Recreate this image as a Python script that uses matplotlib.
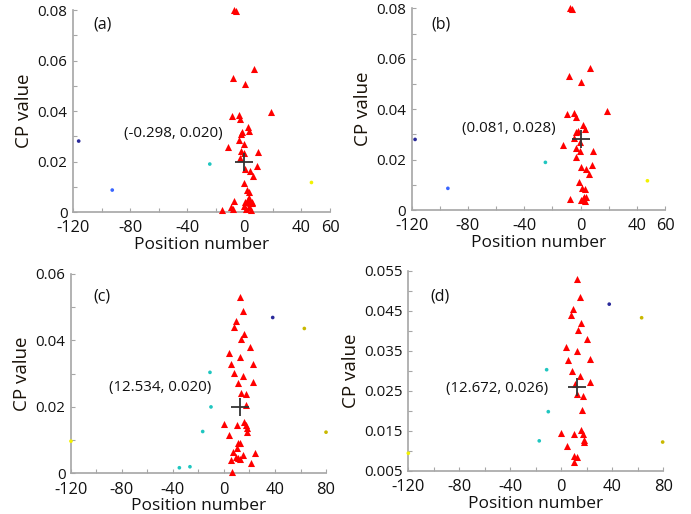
import matplotlib
matplotlib.use("Agg")
import matplotlib.pyplot as plt

plt.rcParams['font.family'] = ['Open Sans', 'DejaVu Sans']

# ---- panel (a) ----
tri_x_a = [-7.0, -5.9, 7.1, -7.8, 0.7, 18.8, -8.9, -4.0, -2.8, 2.4, 3.1, -1.6, -2.3, -4.0,
           0.0, -11.3, -2.3, 9.9, -0.4, -2.8, 9.0, 0.7, 4.2, 5.9, 0.0, 1.7, 3.5, 3.1, 2.4,
           5.2, -7.0, 0.5, 2.5, 4.0, 5.5, -0.4, 3.0, -9.4, -7.8, -15.3, 1.0, 4.5]
tri_y_a = [0.0800, 0.0796, 0.0565, 0.0530, 0.0507, 0.0395, 0.0380, 0.0384, 0.0368, 0.0337,
           0.0320, 0.0318, 0.0308, 0.0285, 0.0268, 0.0256, 0.0243, 0.0236, 0.0232, 0.0215,
           0.0183, 0.0169, 0.0162, 0.0144, 0.0114, 0.0087, 0.0080, 0.0057, 0.0053, 0.0040,
           0.0044, 0.0038, 0.0040, 0.0036, 0.0035, 0.0025, 0.0020, 0.0021, 0.0012, 0.0008,
           0.0010, 0.0008]
dot_x_a = [-116.0, -92.5, -24.2, 47.0]
dot_y_a = [0.0281, 0.0087, 0.0190, 0.0117]
center_a = (-0.298, 0.020)

# ---- panel (b) ----
tri_x_b = [-7.8, -6.4, 6.7, -8.3, 0.0, 18.5, -10.0, -4.8, -3.3, 1.9, 3.1, -1.9, -2.9, -4.8,
           -0.5, -12.6, -2.9, 9.0, -0.7, -3.1, 8.3, 0.0, 3.8, 6.0, -0.9, 0.7, 3.1, 2.4, 4.0,
           -7.6, 0.5, 3.0, 1.7]
tri_y_b = [0.0800, 0.0797, 0.0565, 0.0532, 0.0508, 0.0393, 0.0381, 0.0384, 0.0368, 0.0337,
           0.0320, 0.0315, 0.0308, 0.0284, 0.0271, 0.0258, 0.0245, 0.0235, 0.0235, 0.0211,
           0.0178, 0.0169, 0.0163, 0.0143, 0.0112, 0.0089, 0.0082, 0.0053, 0.0050, 0.0042,
           0.0040, 0.0037, 0.0044]
dot_x_b = [-117.6, -94.3, -25.0, 47.5]
dot_y_b = [0.0280, 0.0086, 0.0189, 0.0116]
center_b = (0.081, 0.028)

# ---- panel (c) ----
tri_x_c = [12.5, 15.2, 9.4, 8.1, 15.9, 13.1, 20.4, 3.7, 12.5, 5.5, 22.5, 8.1, 15.2, 23.0,
           11.2, 13.1, 17.0, 17.0, 0.2, 10.4, 15.7, 17.0, 17.8, 17.8, 4.2, 11.3, 12.5, 10.4,
           7.3, 15.2, 24.3, 9.4, 11.0, 12.4, 5.3, 21.2, 6.0]
tri_y_c = [0.0530, 0.0488, 0.0458, 0.0441, 0.0420, 0.0405, 0.0381, 0.0363, 0.0350, 0.0328,
           0.0330, 0.0303, 0.0292, 0.0276, 0.0272, 0.0242, 0.0239, 0.0206, 0.0149, 0.0146,
           0.0156, 0.0146, 0.0136, 0.0126, 0.0116, 0.0092, 0.0090, 0.0075, 0.0065, 0.0055,
           0.0060, 0.0048, 0.0045, 0.0044, 0.0040, 0.0030, 0.0003]
dot_x_c = [-120.0, -11.0, -10.2, -16.7, -26.7, -35.0, 38.2, 63.0, 80.0]
dot_y_c = [0.0097, 0.0304, 0.0200, 0.0126, 0.0020, 0.0017, 0.0469, 0.0436, 0.0124]
center_c = (12.534, 0.020)

# ---- panel (d) ----
tri_x_d = [12.5, 14.6, 8.9, 7.6, 15.4, 12.8, 19.9, 3.4, 12.5, 5.0, 22.5, 8.1, 14.9, 22.5,
           10.7, 12.5, 16.7, 16.2, -0.3, 10.2, 15.4, 16.7, 17.5, 18.0, 4.2, 10.2, 12.5, 9.9]
tri_y_d = [0.0529, 0.0485, 0.0456, 0.0439, 0.0419, 0.0402, 0.0381, 0.0361, 0.0349, 0.0328,
           0.0330, 0.0301, 0.0288, 0.0273, 0.0268, 0.0241, 0.0238, 0.0202, 0.0145, 0.0143,
           0.0151, 0.0141, 0.0127, 0.0122, 0.0112, 0.0087, 0.0084, 0.0072]
dot_x_d = [-120.0, -11.5, -10.2, -17.3, 37.6, 63.0, 79.5]
dot_y_d = [0.0094, 0.0303, 0.0198, 0.0125, 0.0467, 0.0433, 0.0122]
center_d = (12.672, 0.026)

x_ticks_top = [-120, -100, -80, -60, -40, -20, 0, 20, 40, 60]
x_labels_top = ['-120', '', '-80', '', '-40', '', '0', '', '40', '60']
x_ticks_bot = [-120, -100, -80, -60, -40, -20, 0, 20, 40, 60, 80]
x_labels_bot = ['-120', '', '-80', '', '-40', '', '0', '', '40', '', '80']
y_ticks_ab = [0, 0.01, 0.02, 0.03, 0.04, 0.05, 0.06, 0.07, 0.08]
y_labels_ab = ['0', '', '0.02', '', '0.04', '', '0.06', '', '0.08']
y_ticks_c = [0, 0.01, 0.02, 0.03, 0.04, 0.05, 0.06]
y_labels_c = ['0', '', '0.02', '', '0.04', '', '0.06']
y_ticks_d = [0.005, 0.010, 0.015, 0.020, 0.025, 0.030, 0.035, 0.040, 0.045, 0.050, 0.055]
y_labels_d = ['0.005', '', '0.015', '', '0.025', '', '0.035', '', '0.045', '', '0.055']

NAVY, BLUE, TEAL, YEL, GOLD = '#2a2a9a', '#3a66ff', '#1fc6c0', '#f2f200', '#c9b800'
dot_colors = {
    'a': [NAVY, BLUE, TEAL, YEL],
    'b': [NAVY, BLUE, TEAL, YEL],
    'c': [YEL, TEAL, TEAL, TEAL, TEAL, TEAL, NAVY, GOLD, GOLD],
    'd': [YEL, TEAL, TEAL, TEAL, NAVY, GOLD, GOLD],
}

fig = plt.figure(figsize=(6.91, 5.14), dpi=100)
pos = {
    'a': [0.1056, 0.5875, 0.3720, 0.3930],
    'b': [0.5958, 0.5914, 0.3666, 0.3924],
    'c': [0.1027, 0.0790, 0.3691, 0.3880],
    'd': [0.5909, 0.0840, 0.3690, 0.3888],
}
panels = {
    'a': (tri_x_a, tri_y_a, dot_x_a, dot_y_a, center_a, x_ticks_top, x_labels_top,
          y_ticks_ab, y_labels_ab, (-120, 60), (0, 0.08), (-15.3, 0.0312), (-106, 0.0741)),
    'b': (tri_x_b, tri_y_b, dot_x_b, dot_y_b, center_b, x_ticks_top, x_labels_top,
          y_ticks_ab, y_labels_ab, (-120, 60), (0, 0.08), (-17.8, 0.0324), (-106, 0.0734)),
    'c': (tri_x_c, tri_y_c, dot_x_c, dot_y_c, center_c, x_ticks_bot, x_labels_bot,
          y_ticks_c, y_labels_c, (-120, 80), (0, 0.06), (-9.7, 0.0259), (-102.5, 0.0532)),
    'd': (tri_x_d, tri_y_d, dot_x_d, dot_y_d, center_d, x_ticks_bot, x_labels_bot,
          y_ticks_d, y_labels_d, (-120, 80), (0.005, 0.055), (-10.2, 0.0257), (-103, 0.0485)),
}

for key, (tx, ty, dx, dy, cen, xt, xl, yt, yl, xlim, ylim, txt_pos, lab_pos) in panels.items():
    ax = fig.add_axes(pos[key])
    ax.scatter(dx, dy, s=7, c=dot_colors[key], linewidths=0, zorder=3, clip_on=False)
    ax.scatter(tx, ty, marker='^', s=26, color='#ff0000', linewidths=0, zorder=3, clip_on=False)
    ax.plot([cen[0]], [cen[1]], marker='+', ms=13, mew=1.3, color='#333333', zorder=4)
    ax.text(txt_pos[0], txt_pos[1], '(%.3f, %.3f)' % cen, ha='right', va='center',
            fontsize=10.8, color='#111111')
    ax.text(lab_pos[0], lab_pos[1], '(%s)' % key, ha='left', va='center',
            fontsize=11.5, color='#111111')
    ax.set_xlim(*xlim)
    ax.set_ylim(*ylim)
    ax.set_xticks(xt)
    ax.set_xticklabels(xl, fontsize=11.8)
    ax.set_yticks(yt)
    ax.set_yticklabels(yl, fontsize=10.8)
    for s in ['top', 'right']:
        ax.spines[s].set_visible(False)
    for s in ['left', 'bottom']:
        ax.spines[s].set_color('#a6a6a6')
        ax.spines[s].set_linewidth(1.2)
    ax.tick_params(axis='both', direction='in', length=3, color='#a6a6a6', labelcolor='#111111')
    ax.tick_params(axis='x', pad=6)
    ax.tick_params(axis='y', pad=4)
    ax.set_xlabel('Position number', fontsize=12.5, labelpad=0.5, color='#111111')
    ax.set_ylabel('CP value', fontsize=13.5, labelpad=3, color='#1a1208')

fig.savefig('out.png', dpi=100)
